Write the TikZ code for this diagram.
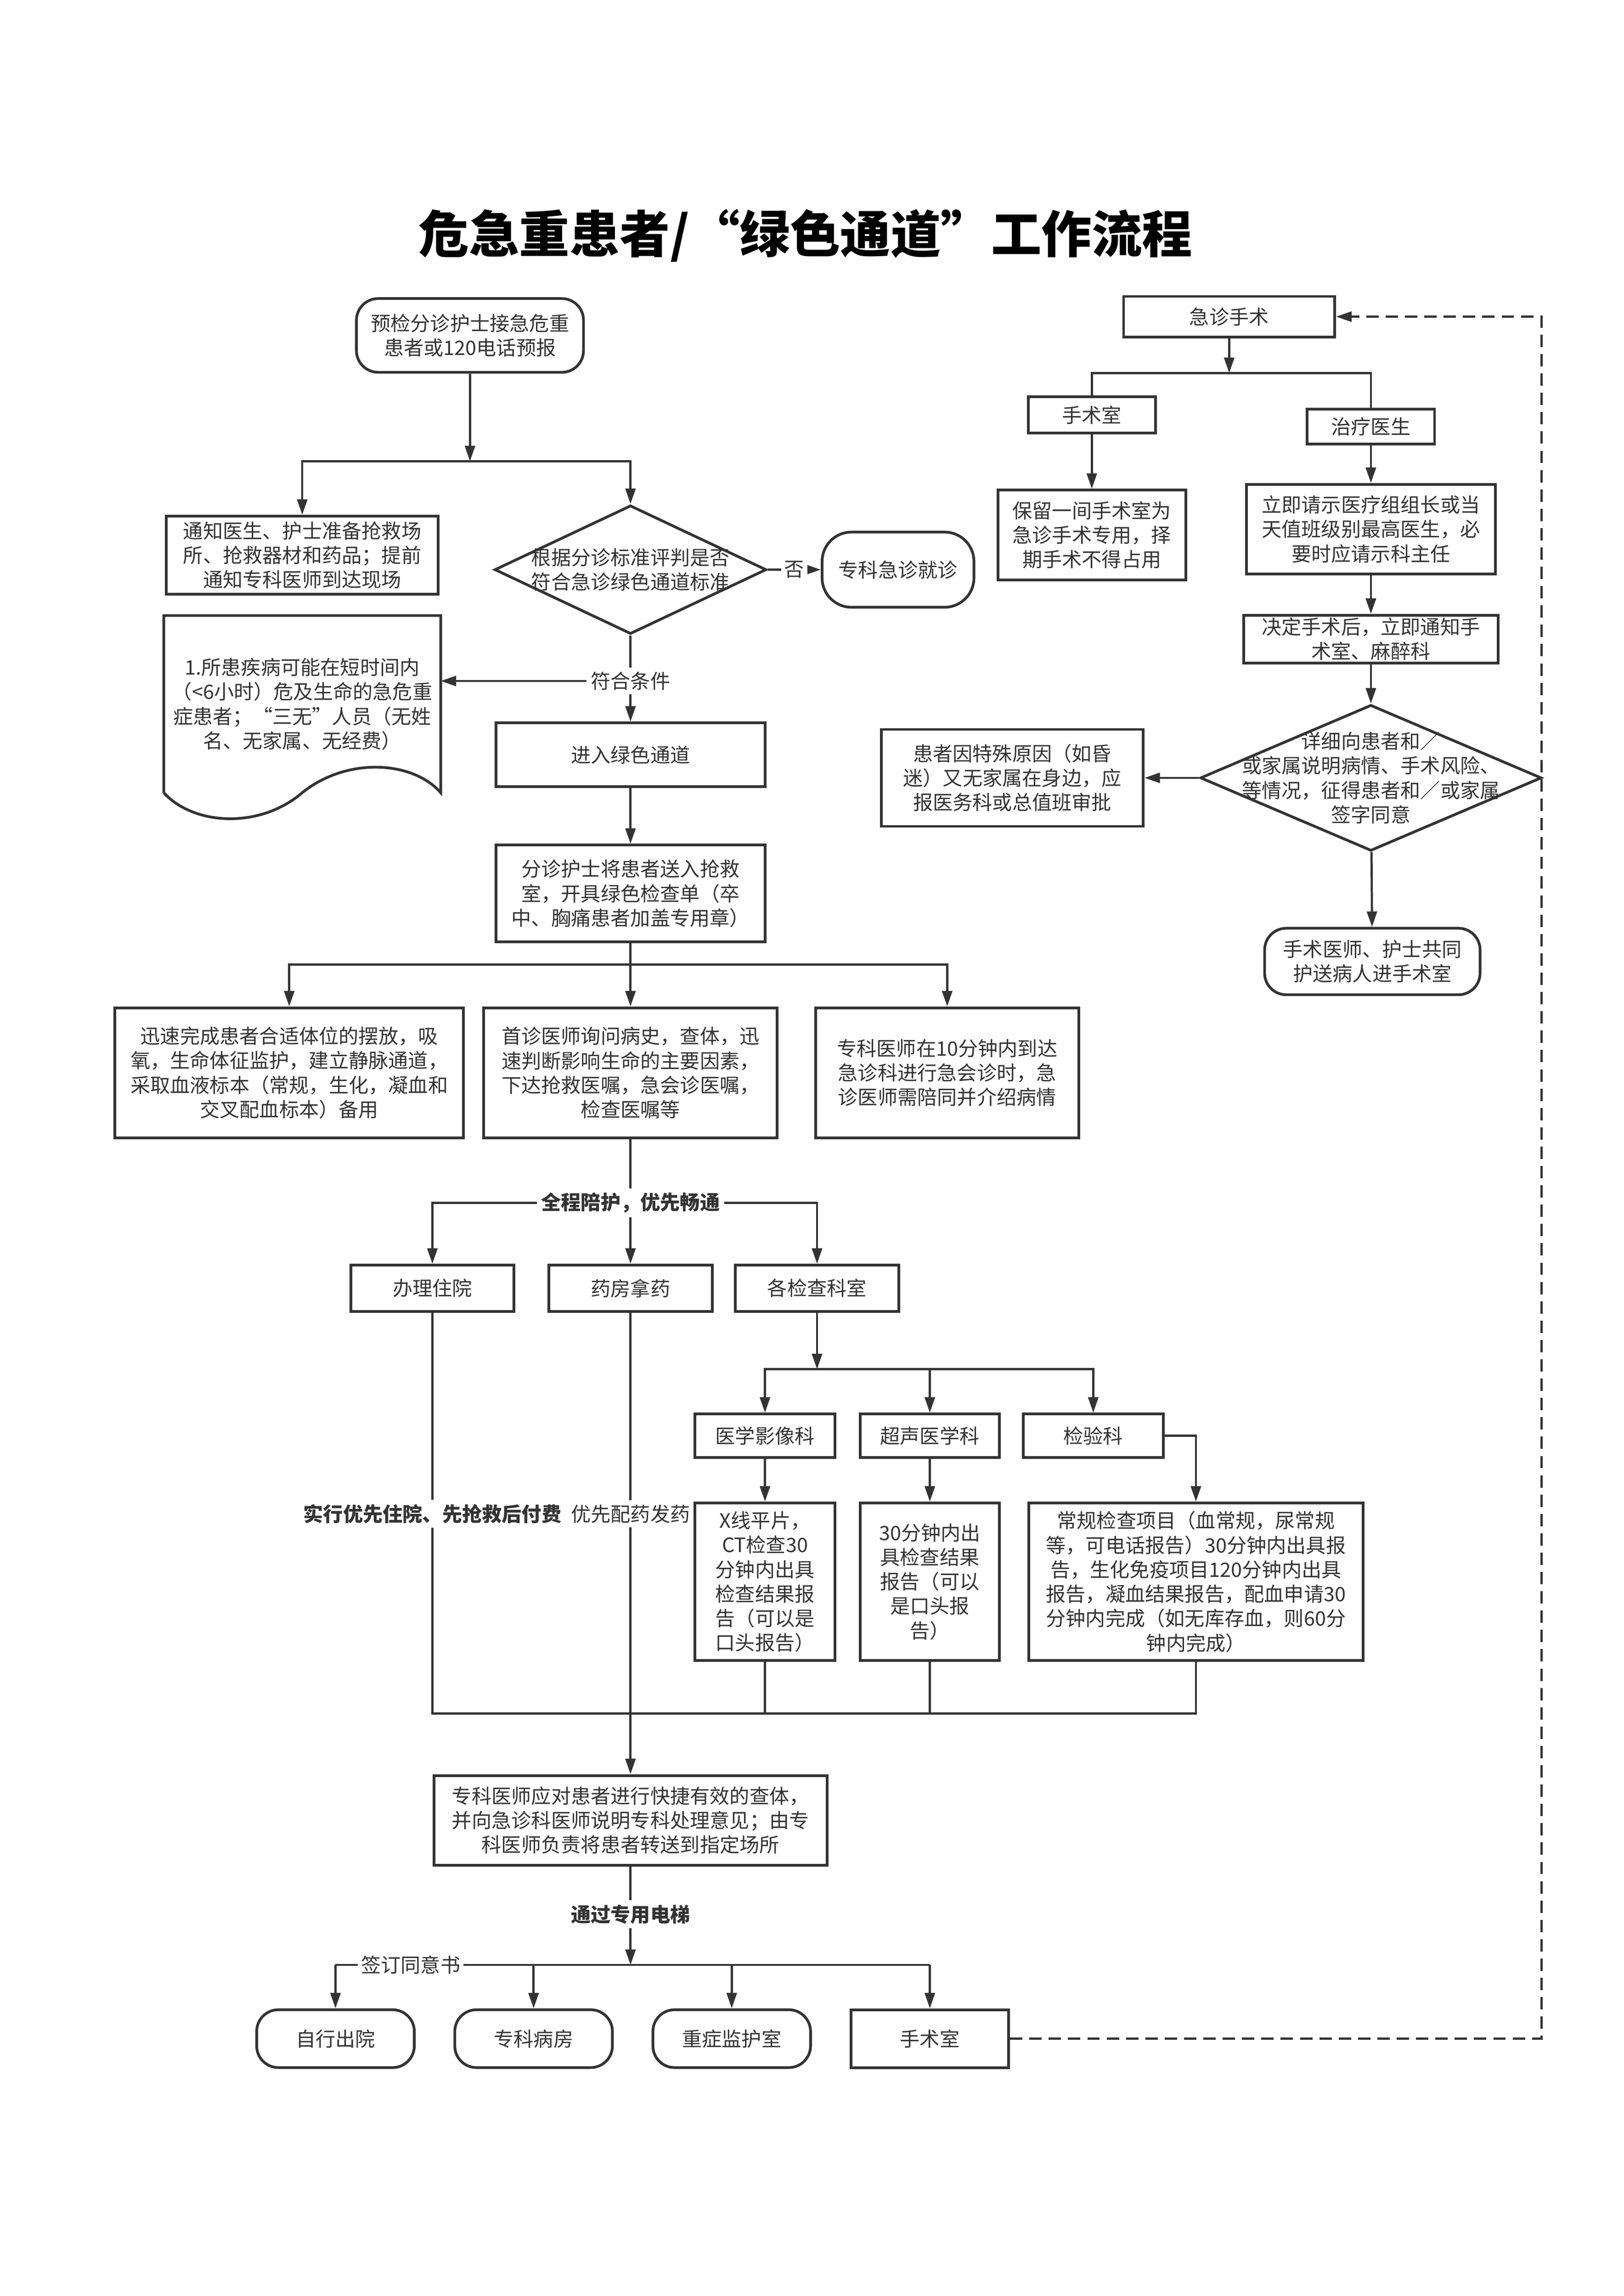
\documentclass[tikz,border=0pt]{standalone}
\usepackage{fontspec}
\setmainfont{Noto Sans CJK SC}
\usepackage{tikz}
\usetikzlibrary{arrows.meta,calc,shapes.geometric}
\newcommand{\boxfont}{\fontsize{7.3}{9}\selectfont}
\tikzset{%
        >={Triangle[length=2mm,width=1.3mm]},
        sz/.style 2 args={minimum width=#1*0.187mm, minimum height=#2*0.187mm}
}
\tikzstyle{boxtext}=[
    align = center,
    inner sep = 0pt,
    font = \boxfont
]
\tikzstyle{proc}=[
    boxtext,
    draw,
    fill = white,
    line width = 1pt
]
\tikzstyle{pill}=[
    proc,
    rounded corners = 2.8mm
]
\tikzstyle{decision}=[
    diamond,
    draw,
    fill = white,
    line width = 1pt,
    inner sep = 0pt
]
\tikzstyle{lbl}=[
    boxtext,
    fill = white,
    inner sep = 1.2pt
]
\tikzstyle{dashy}=[
    dash pattern = on 1.6mm off 0.9mm
]

\begin{document}
\begin{tikzpicture}[x=0.187mm, y=-0.187mm, color=black!80, line width=0.8pt]
    \useasboundingbox (0,0) rectangle (1123,1588);
    \node[font=\bfseries\fontsize{18.5}{22}\selectfont, color=black] (title) at (557,163) {危急重患者/“绿色通道”工作流程};

    % main column
    \node[pill, sz={157}{51}] (start) at (325,232) {预检分诊护士接急危重\\患者或120电话预报};
    \node[proc, sz={188}{54}] (notify) at (209,384) {通知医生、护士准备抢救场\\所、抢救器材和药品；提前\\通知专科医师到达现场};
    \node[decision, sz={188}{89}, label={[boxtext]center:根据分诊标准评判是否\\符合急诊绿色通道标准}] (judge) at (436,394) {};
    \node[proc, rounded corners=3.8mm, sz={105}{52}] (emerg) at (621,394) {专科急诊就诊};
    \node[boxtext, sz={190}{121}] (crit) at (209,487) {1.所患疾病可能在短时间内\\（<6小时）危及生命的急危重\\症患者；“三无”人员（无姓\\名、无家属、无经费）};
    \node[lbl] (cond) at (436,471) {符合条件};
    \node[proc, sz={186}{44}] (enter) at (436,522) {进入绿色通道};
    \node[proc, sz={186}{67}] (send) at (436,618) {分诊护士将患者送入抢救\\室，开具绿色检查单（卒\\中、胸痛患者加盖专用章）};

    \node[proc, sz={241}{90}] (rescue) at (200,742) {迅速完成患者合适体位的摆放，吸\\氧，生命体征监护，建立静脉通道，\\采取血液标本（常规，生化，凝血和\\交叉配血标本）备用};
    \node[proc, sz={203}{90}] (firstdoc) at (436,742) {首诊医师询问病史，查体，迅\\速判断影响生命的主要因素，\\下达抢救医嘱，急会诊医嘱，\\检查医嘱等};
    \node[proc, sz={182}{90}] (consult) at (655,742) {专科医师在10分钟内到达\\急诊科进行急会诊时，急\\诊医师需陪同并介绍病情};

    \node[lbl, font=\boxfont\bfseries] (track) at (436,832) {全程陪护，优先畅通};
    \node[proc, sz={113}{32}] (admit) at (299,891) {办理住院};
    \node[proc, sz={113}{32}] (pharm) at (436,891) {药房拿药};
    \node[proc, sz={113}{32}] (exam) at (565,891) {各检查科室};

    \node[proc, sz={97}{30}] (img) at (529,993) {医学影像科};
    \node[proc, sz={96}{30}] (us) at (643,993) {超声医学科};
    \node[proc, sz={97}{30}] (lab) at (756,993) {检验科};
    \node[proc, sz={97}{109}] (xray) at (529,1094) {X线平片，\\CT检查30\\分钟内出具\\检查结果报\\告（可以是\\口头报告）};
    \node[proc, sz={96}{109}] (usr) at (643,1094) {30分钟内出\\具检查结果\\报告（可以\\是口头报\\告）};
    \node[proc, sz={231}{109}] (labr) at (827,1094) {常规检查项目（血常规，尿常规\\等，可电话报告）30分钟内出具报\\告，生化免疫项目120分钟内出具\\报告，凝血结果报告，配血申请30\\分钟内完成（如无库存血，则60分\\钟内完成）};
    \node[lbl, font=\boxfont\bfseries] (paylbl) at (299,1047) {实行优先住院、先抢救后付费};
    \node[lbl] (druglbl) at (436,1047) {优先配药发药};

    \node[proc, sz={272}{62}] (spec) at (436,1259) {专科医师应对患者进行快捷有效的查体，\\并向急诊科医师说明专科处理意见；由专\\科医师负责将患者转送到指定场所};
    \node[lbl, font=\boxfont\bfseries] (lift) at (436,1324) {通过专用电梯};
    \node[pill, sz={109}{40}] (home) at (232,1410) {自行出院};
    \node[pill, sz={109}{40}] (ward) at (369,1410) {专科病房};
    \node[pill, sz={109}{40}] (icu) at (506,1410) {重症监护室};
    \node[proc, sz={109}{40}] (orb) at (643,1410) {手术室};

    % right column
    \node[proc, sz={146}{28}] (ern) at (850,219) {急诊手术};
    \node[proc, sz={88}{25}] (orr) at (755,287) {手术室};
    \node[proc, sz={88}{24}] (treat) at (948,295) {治疗医生};
    \node[proc, sz={130}{62}] (keep) at (755,370) {保留一间手术室为\\急诊手术专用，择\\期手术不得占用};
    \node[proc, sz={172}{62}] (ask) at (948,366) {立即请示医疗组组长或当\\天值班级别最高医生，必\\要时应请示科主任};
    \node[proc, sz={176}{33}] (decide) at (948,442) {决定手术后，立即通知手\\术室、麻醉科};
    \node[decision, sz={236}{101}, label={[boxtext]center:详细向患者和／\\或家属说明病情、手术风险、\\等情况，征得患者和／或家属\\签字同意}] (inform) at (948,538) {};
    \node[proc, sz={181}{67}] (special) at (700,538) {患者因特殊原因（如昏\\迷）又无家属在身边，应\\报医务科或总值班审批};
    \node[pill, sz={149}{46}] (escort) at (949,665) {手术医师、护士共同\\护送病人进手术室};

    % document outline
    \draw[line width=1pt] (crit.south west) -- (crit.north west) -- (crit.north east) -- (crit.south east)
        .. controls +(-19,-22) and +(31,-25) .. (crit.south)
        .. controls +(-29,25) and +(21,23) .. (crit.south west);

    % connectors
    \coordinate (s1) at (325,319);
    \draw[->] (start) -- (s1);
    \draw[->] (s1) -| (notify.north);
    \draw[->] (s1) -| (judge.north);
    \draw[->] (judge.east) -- node[lbl] {否} (emerg.west);
    \draw (judge.south) -- (cond);
    \draw[->] (cond.west) -- (cond.west -| crit.east);
    \draw[->] (cond) -- (enter);
    \draw[->] (enter) -- (send);

    \coordinate (s2) at (436,667);
    \draw (send) -- (s2);
    \draw[->] (s2) -| (rescue.north);
    \draw[->] (s2) -- (firstdoc);
    \draw[->] (s2) -| (consult.north);

    \draw (firstdoc) -- (track);
    \draw[->] (track.west) -| (admit.north);
    \draw[->] (track) -- (pharm);
    \draw[->] (track.east) -| (exam.north);

    \coordinate (s4) at (565,947);
    \draw[->] (exam) -- (s4);
    \draw[->] (s4) -| (img.north);
    \draw[->] (s4) -| (lab.north);
    \draw[->] (us.north |- s4) -- (us.north);
    \draw[->] (img) -- (xray);
    \draw[->] (us) -- (usr);
    \draw[->] (lab.east) -| (labr.north);

    \coordinate (j1) at (299,1185);
    \draw (admit) -- (paylbl);
    \draw (paylbl) -- (j1) -- (j1 -| labr.south) -- (labr.south);
    \draw (xray) -- (xray.south |- j1);
    \draw (usr) -- (usr.south |- j1);
    \draw (pharm) -- (druglbl);
    \draw[->] (druglbl) -- (spec);

    \draw (spec) -- (lift);
    \coordinate (s5) at (436,1359);
    \draw[->] (lift) -- (s5);
    \draw (home.north |- s5) -- (orb.north |- s5);
    \node[lbl] (signlbl) at (284,1359) {签订同意书};
    \foreach \n in {home,ward,icu,orb}
        \draw[->] (\n.north |- s5) -- (\n.north);

    \coordinate (loop) at (1066,1410);
    \draw[->, dashy] (orb.east) -- (loop) |- (ern.east);

    \coordinate (s6) at (850,258);
    \draw[->] (ern) -- (s6);
    \draw (s6) -| (orr.north);
    \draw (s6) -| (treat.north);
    \draw[->] (orr) -- (keep);
    \draw[->] (treat) -- (ask);
    \draw[->] (ask) -- (decide);
    \draw[->] (decide) -- (inform);
    \draw[->] (inform.west) -- (special.east);
    \draw[->] (inform) -- (escort);
\end{tikzpicture}
\end{document}
